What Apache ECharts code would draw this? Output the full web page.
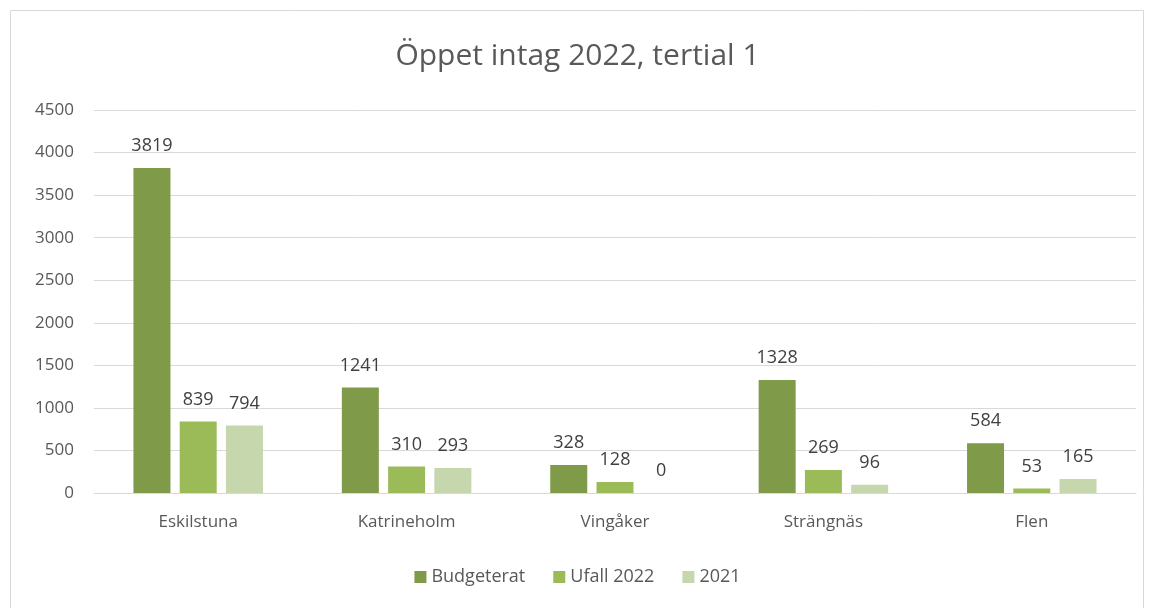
<!DOCTYPE html>
<html><head><meta charset="utf-8">
<script src="https://cdn.jsdelivr.net/npm/echarts@6/dist/echarts.min.js"></script>
<style>html,body{margin:0;padding:0;background:#fff}#c{width:1155px;height:608px}</style>
</head><body><div id="c"></div>
<script>
const categories = ['Eskilstuna', 'Katrineholm', 'Vingåker', 'Strängnäs', 'Flen'];
const budgeterat = [3819, 1241, 328, 1328, 584];
const ufall2022 = [839, 310, 128, 269, 53];
const y2021 = [794, 293, 0, 96, 165];
const seriesNames = ['Budgeterat', 'Ufall 2022', '2021'];
const colors = ['#7f9a48', '#9bbb59', '#c6d7ad'];

const font = "'Open Sans', sans-serif";
const chart = echarts.init(document.getElementById('c'));
const mk = (name, data, color) => ({
  name, type: 'bar', data,
  itemStyle: { color },
  barWidth: 37,
  barGap: '25%',
  label: { show: true, position: 'top', color: '#404040', fontSize: 18, fontFamily: font, distance: 13 }
});
chart.setOption({
  animation: false,
  color: colors,
  title: { text: 'Öppet intag 2022, tertial 1', left: 'center', top: 36,
    textStyle: { color: '#595959', fontSize: 30, fontWeight: 'normal', fontFamily: font } },
  graphic: [{ type: 'rect', shape: { x: 10.5, y: 10.5, width: 1133, height: 620 },
    style: { fill: 'none', stroke: '#d9d9d9', lineWidth: 1 }, silent: true }],
  grid: { left: 94, right: 19, top: 110, bottom: 115 },
  legend: { bottom: 17, left: 'center', itemWidth: 12, itemHeight: 12, itemGap: 28,
    icon: 'rect', textStyle: { color: '#595959', fontSize: 18, fontFamily: font } },
  xAxis: { type: 'category', data: categories,
    axisLine: { lineStyle: { color: '#d9d9d9', width: 1 } }, axisTick: { show: false },
    axisLabel: { color: '#595959', fontSize: 17, fontFamily: font, margin: 21 } },
  yAxis: { type: 'value', min: 0, max: 4500, interval: 500,
    axisLine: { show: false }, axisTick: { show: false },
    splitLine: { lineStyle: { color: '#d9d9d9', width: 1 } },
    axisLabel: { color: '#595959', fontSize: 17, fontFamily: font, margin: 20, align: 'right',
      formatter: v => String(v) } },
  series: [mk(seriesNames[0], budgeterat, colors[0]), mk(seriesNames[1], ufall2022, colors[1]), mk(seriesNames[2], y2021, colors[2])]
});
</script></body></html>
